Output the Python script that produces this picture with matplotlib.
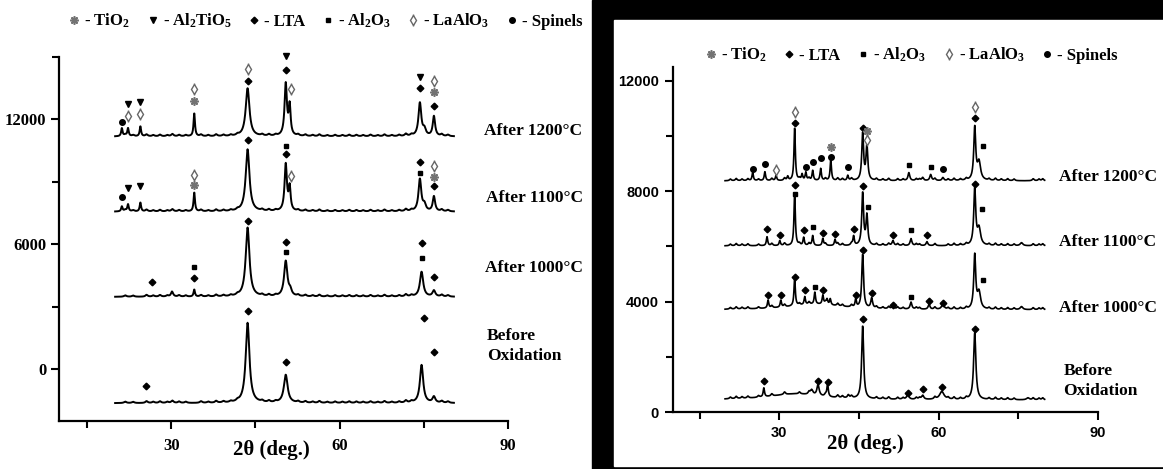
import numpy as np
import matplotlib.pyplot as plt
from matplotlib.lines import Line2D
from matplotlib.legend_handler import HandlerTuple
from matplotlib.patches import Rectangle
from matplotlib.ticker import MultipleLocator

plt.rcParams['font.family'] = 'Liberation Serif'
plt.rcParams['font.weight'] = 'bold'
plt.rcParams['axes.labelweight'] = 'bold'
plt.rcParams['mathtext.fontset'] = 'custom'
plt.rcParams['mathtext.rm'] = 'Liberation Serif:bold'
plt.rcParams['mathtext.it'] = 'Liberation Serif:bold'
plt.rcParams['mathtext.bf'] = 'Liberation Serif:bold'

W, H = 1163, 469

# phase keys -> legend text
phase_names = {'ti': '- TiO$_2$', 'at': '- Al$_2$TiO$_5$', 'lta': '- LTA',
               'al': '- Al$_2$O$_3$', 'la': '- LaAlO$_3$', 'sp': '- Spinels'}

# ---------------- left panel data ----------------
left_labels = ['After 1200°C', 'After 1100°C', 'After 1000°C', 'Before\nOxidation']
left_bases = [11180, 7566, 3470, -1640]

# (2theta, height, half width)
left_1200_peaks = [(21.2, 385, 0.15), (22.3, 385, 0.15), (24.5, 480, 0.15), (34.1, 1110, 0.15),
                   (43.6, 2310, 0.4), (50.4, 2500, 0.25), (51.1, 1400, 0.2),
                   (74.3, 1600, 0.3), (75.1, 300, 0.3), (76.8, 960, 0.25)]
left_1100_peaks = [(21.2, 240, 0.15), (22.3, 340, 0.15), (24.5, 430, 0.15), (34.1, 915, 0.15),
                   (43.6, 2990, 0.4), (50.4, 2250, 0.25), (51.1, 1100, 0.2),
                   (74.3, 1550, 0.3), (75.1, 300, 0.3), (76.8, 720, 0.25)]
left_1000_peaks = [(30.1, 145, 0.2), (34.1, 340, 0.15), (43.6, 3325, 0.4), (50.4, 1700, 0.35),
                   (51.2, 250, 0.3), (74.6, 1200, 0.35), (76.8, 290, 0.3)]
left_before_peaks = [(43.6, 3855, 0.4), (50.4, 1350, 0.4), (74.6, 1830, 0.35), (76.8, 290, 0.3)]

left_ripple = [(21.8, 70), (23.2, 60), (25.6, 90), (26.8, 60), (28.0, 80), (29.3, 60), (30.2, 110),
               (31.4, 70), (32.6, 60), (35.3, 80), (36.6, 60), (38.0, 90), (39.3, 70), (40.6, 60),
               (41.8, 60), (46.2, 70), (47.4, 80), (48.6, 60), (52.6, 70), (53.9, 80), (55.2, 60),
               (56.4, 90), (57.8, 60), (59.2, 70), (60.5, 60), (61.7, 80), (63.0, 70), (64.2, 60),
               (65.5, 80), (66.8, 60), (68.0, 90), (69.3, 60), (70.6, 70), (71.8, 110), (72.8, 70),
               (78.2, 90), (79.3, 70)]

left_marks = [
    [(21.2, 11855, 'sp'), (22.3, 12144, 'la'), (22.3, 12722, 'at'), (24.5, 12240, 'la'),
     (24.5, 12818, 'at'), (34.1, 12867, 'ti'), (34.1, 13445, 'la'), (43.6, 13830, 'lta'),
     (43.6, 14409, 'la'), (50.4, 14360, 'lta'), (50.4, 15035, 'at'), (51.3, 13445, 'la'),
     (74.3, 13493, 'lta'), (74.3, 14023, 'at'), (76.9, 12626, 'lta'), (76.9, 13300, 'ti'),
     (76.9, 13830, 'la')],
    [(21.2, 8290, 'sp'), (22.3, 8720, 'at'), (24.5, 8820, 'at'), (34.1, 8870, 'ti'),
     (34.1, 9350, 'la'), (43.6, 10990, 'lta'), (50.4, 10360, 'lta'), (50.4, 10700, 'al'),
     (51.3, 9300, 'la'), (74.3, 9400, 'al'), (74.3, 9930, 'lta'), (76.9, 8820, 'lta'),
     (76.9, 9250, 'ti'), (76.9, 9780, 'la')],
    [(26.6, 4190, 'lta'), (34.1, 4385, 'lta'), (34.1, 4915, 'al'), (43.6, 7130, 'lta'),
     (50.4, 5640, 'al'), (50.4, 6120, 'lta'), (74.6, 5350, 'al'), (74.6, 6070, 'lta'),
     (76.9, 4430, 'lta')],
    [(25.5, -820, 'lta'), (43.6, 2795, 'lta'), (50.4, 337, 'lta'), (75.0, 2460, 'lta'),
     (76.8, 820, 'lta')],
]

# ---------------- right panel data ----------------
right_labels = ['After 1200°C', 'After 1100°C', 'After 1000°C', 'Before\nOxidation']
right_bases = [8376, 6020, 3700, 435]

right_1200_peaks = [(25.0, 290, 0.15), (27.3, 326, 0.15), (29.4, 181, 0.15), (31.6, 145, 0.15),
                    (32.9, 1922, 0.15), (34.3, 218, 0.15), (35.0, 290, 0.15), (36.3, 363, 0.15),
                    (37.8, 435, 0.15), (39.7, 761, 0.15), (42.9, 181, 0.15), (45.7, 1700, 0.2),
                    (46.5, 1250, 0.2), (54.4, 290, 0.2), (57.0, 110, 0.2), (58.5, 218, 0.2),
                    (60.8, 110, 0.2), (66.8, 1900, 0.22), (67.6, 650, 0.35)]
right_1100_peaks = [(27.7, 326, 0.15), (30.1, 181, 0.15), (32.9, 1922, 0.15), (34.6, 290, 0.15),
                    (36.3, 363, 0.15), (38.2, 254, 0.15), (40.5, 218, 0.15), (44.0, 326, 0.15),
                    (45.7, 1900, 0.2), (46.5, 1080, 0.2), (51.4, 181, 0.2), (54.8, 254, 0.2),
                    (57.8, 145, 0.2), (66.8, 2050, 0.22), (67.6, 600, 0.35), (75.6, 110, 0.3)]
right_1000_peaks = [(27.9, 290, 0.15), (30.3, 254, 0.15), (32.9, 1015, 0.15), (34.8, 290, 0.15),
                    (36.7, 435, 0.15), (38.2, 326, 0.15), (39.0, 181, 0.15), (39.6, 218, 0.15),
                    (37.0, 200, 6.0), (44.4, 290, 0.15), (45.7, 1950, 0.2), (47.4, 363, 0.2),
                    (51.4, 145, 0.2), (54.8, 254, 0.2), (58.2, 181, 0.2), (60.8, 181, 0.3),
                    (66.8, 1950, 0.22), (67.6, 600, 0.35), (75.6, 110, 0.3)]
right_before_peaks = [(33.0, 220, 6.0), (27.1, 326, 0.15), (36.1, 181, 0.3), (37.3, 400, 0.25),
                      (39.1, 470, 0.15), (43.0, 110, 0.2), (45.7, 2650, 0.22), (54.2, 181, 0.25),
                      (57.0, 145, 0.25), (60.6, 290, 0.5), (66.8, 2430, 0.25), (76.8, 72, 0.3)]

right_ripple = [(20.8, 60), (21.9, 80), (23.0, 60), (24.1, 70), (26.1, 60), (28.6, 80), (31.0, 90),
                (33.8, 70), (35.6, 90), (38.7, 80), (41.0, 90), (41.9, 70), (43.6, 80), (48.3, 70),
                (49.5, 60), (50.6, 80), (52.3, 70), (53.3, 60), (55.8, 70), (56.4, 60), (59.3, 80),
                (61.8, 60), (62.9, 80), (64.1, 60), (65.2, 70), (69.5, 60), (70.7, 80), (71.8, 60),
                (73.0, 70), (74.2, 60), (77.8, 70), (78.9, 60), (79.6, 70)]

right_marks = [
    [(25.0, 8811, 'sp'), (27.3, 8992, 'sp'), (29.4, 8775, 'la'), (32.9, 10480, 'lta'),
     (32.9, 10878, 'la'), (35.0, 8884, 'sp'), (36.3, 9065, 'sp'), (37.8, 9210, 'sp'),
     (39.7, 9246, 'sp'), (39.7, 9609, 'ti'), (42.9, 8884, 'sp'), (45.7, 10298, 'lta'),
     (46.6, 10190, 'ti'), (46.6, 9863, 'la'), (54.4, 8956, 'al'), (58.5, 8884, 'al'),
     (60.8, 8811, 'sp'), (66.8, 10660, 'lta'), (66.8, 11060, 'la'), (68.3, 9645, 'al')],
    [(27.7, 6636, 'lta'), (30.1, 6418, 'lta'), (32.9, 7905, 'al'), (32.9, 8231, 'lta'),
     (34.6, 6600, 'lta'), (36.3, 6708, 'al'), (38.2, 6490, 'lta'), (40.5, 6454, 'lta'),
     (44.0, 6636, 'lta'), (45.7, 8195, 'lta'), (46.7, 7433, 'al'), (51.4, 6418, 'lta'),
     (54.8, 6600, 'al'), (57.8, 6418, 'lta'), (66.8, 8267, 'lta'), (68.1, 7361, 'al')],
    [(27.9, 4242, 'lta'), (30.3, 4242, 'lta'), (32.9, 4895, 'lta'), (34.8, 4424, 'lta'),
     (36.7, 4532, 'al'), (38.2, 4424, 'lta'), (44.4, 4242, 'lta'), (45.7, 5874, 'lta'),
     (47.4, 4315, 'lta'), (51.4, 3880, 'lta'), (54.8, 4170, 'al'), (58.2, 4025, 'lta'),
     (60.8, 3952, 'lta'), (68.3, 4786, 'al')],
    [(27.1, 1124, 'lta'), (37.3, 1124, 'lta'), (39.1, 1088, 'lta'), (45.7, 3372, 'lta'),
     (54.2, 689, 'lta'), (57.0, 834, 'lta'), (60.6, 906, 'lta'), (66.8, 3010, 'lta')],
]

# marker look for each phase
phase_style = {
    'ti': dict(marker=(8, 2, 0), color='0.45', ms=6, mew=1.2),
    'at': dict(marker='v', color='black', ms=5),
    'lta': dict(marker='D', color='black', ms=3.4),
    'al': dict(marker='s', color='black', ms=3.4),
    'sp': dict(marker='o', color='black', ms=4.0),
}


def profile(x, base, peaks, ripple, w_ripple=0.25):
    y = np.full_like(x, base, dtype=float)
    for c, h, hw in peaks:
        y += h / (1 + ((x - c) / hw) ** 2)
    for c, h in ripple:
        y += h / (1 + ((x - c) / w_ripple) ** 2)
    return y


def draw_marks(ax, marks):
    for x, y, ph in marks:
        if ph == 'la':
            ax.plot(x, y, marker='|', color='0.4', ms=9, mew=1.0, ls='none', clip_on=False)
            ax.plot(x, y, marker='d', mfc='white', mec='0.4', ms=5, mew=1.0, ls='none',
                    clip_on=False)
        else:
            ax.plot(x, y, ls='none', clip_on=False, **phase_style[ph])


def legend_handles(keys):
    hs = []
    for k in keys:
        if k == 'la':
            hs.append((Line2D([], [], marker='|', color='0.4', ms=9, mew=1.0, ls='none'),
                       Line2D([], [], marker='d', mfc='white', mec='0.4', ms=5, mew=1.0,
                              ls='none')))
        else:
            hs.append(Line2D([], [], ls='none', **phase_style[k]))
    return hs


fig = plt.figure(figsize=(W / 100, H / 100), dpi=100)

# black frame behind the right-hand panel
fig.add_artist(Rectangle((592 / W, 0), (W - 592) / W, 1, transform=fig.transFigure,
                         color='black', zorder=0))
fig.add_artist(Rectangle((614 / W, 1 - 466 / H), (W - 614) / W, (466 - 20) / H,
                         transform=fig.transFigure, color='white', zorder=0))

ax1 = fig.add_axes([59 / W, 1 - 421 / H, 449 / W, 364 / H])
ax2 = fig.add_axes([673 / W, 1 - 412 / H, 425 / W, 345 / H])

x_left = np.arange(20.0, 80.4, 0.04)
x_right = np.arange(19.8, 80.0, 0.04)

left_peaks = [left_1200_peaks, left_1100_peaks, left_1000_peaks, left_before_peaks]
right_peaks = [right_1200_peaks, right_1100_peaks, right_1000_peaks, right_before_peaks]

for base, pk in zip(left_bases, left_peaks):
    ax1.plot(x_left, profile(x_left, base, pk, left_ripple), color='black', lw=1.4)
for base, pk in zip(right_bases, right_peaks):
    ax2.plot(x_right, profile(x_right, base, pk, right_ripple, 0.2), color='black', lw=1.2)

for m in left_marks:
    draw_marks(ax1, m)
for m in right_marks:
    draw_marks(ax2, m)

left_label_pos = [(85.7, 11420), (86.1, 8240), (85.9, 4870), (86.2, 1110)]
right_label_pos = [(82.6, 8521), (82.6, 6164), (82.6, 3771), (83.5, 1124)]
for (x, y), t in zip(left_label_pos, left_labels):
    ax1.text(x, y, t, fontsize=12.5, ha='left', va='center', clip_on=False, linespacing=1.3)
for (x, y), t in zip(right_label_pos, right_labels):
    ax2.text(x, y, t, fontsize=12.5, ha='left', va='center', clip_on=False, linespacing=1.3)

# axes styling
for ax in (ax1, ax2):
    ax.set_facecolor('none')
    ax.spines['top'].set_visible(False)
    ax.spines['right'].set_visible(False)
    ax.spines['left'].set_linewidth(1.6)
    ax.spines['bottom'].set_linewidth(1.6)
    ax.set_xlim(10, 90)
    ax.xaxis.set_minor_locator(MultipleLocator(15))
    ax.tick_params(which='both', direction='out', width=1.5)
    ax.tick_params(which='major', length=6)
    ax.tick_params(which='minor', length=5)

ax1.set_ylim(-2500, 15000)
ax1.set_xticks([30, 60, 90], labels=['30', '60', '90'], fontsize=12, fontweight='bold')
ax1.set_yticks([0, 6000, 12000], labels=['0', '6000', '12000'], fontsize=12, fontweight='bold')
ax1.yaxis.set_minor_locator(MultipleLocator(3000))
ax1.tick_params(axis='x', pad=6)
ax1.tick_params(axis='y', pad=3)
ax1.set_xlabel('2θ (deg.)', fontsize=15, fontweight='bold')
ax1.xaxis.set_label_coords((271 - 59) / 449, (421 - 440) / 364)

sans = dict(fontsize=10.5, fontfamily='Liberation Sans', fontweight='bold')
ax2.set_ylim(0, 12500)
ax2.set_xticks([30, 60, 90], labels=['30', '60', '90'], **sans)
ax2.set_yticks([0, 4000, 8000, 12000], labels=['0', '4000', '8000', '12000'], **sans)
ax2.yaxis.set_minor_locator(MultipleLocator(2000))
ax2.tick_params(axis='both', pad=4)
ax2.set_xlabel('2θ (deg.)', fontsize=15, fontweight='bold')
ax2.xaxis.set_label_coords((865 - 673) / 425, (412 - 434) / 345)

left_keys = ['ti', 'at', 'lta', 'al', 'la', 'sp']
right_keys = ['ti', 'lta', 'al', 'la', 'sp']
legend_kw = dict(handler_map={tuple: HandlerTuple(ndivide=1)}, frameon=False, loc='center',
                 fontsize=12, handlelength=0.6, handletextpad=0.3, columnspacing=1.05,
                 borderpad=0)
fig.legend(legend_handles(left_keys), [phase_names[k] for k in left_keys], ncol=6,
           bbox_to_anchor=(326 / W, 1 - 21 / H), **legend_kw)
fig.legend(legend_handles(right_keys), [phase_names[k] for k in right_keys], ncol=5,
           bbox_to_anchor=(912 / W, 1 - 55 / H), **legend_kw)

fig.savefig('out.png', dpi=100)
